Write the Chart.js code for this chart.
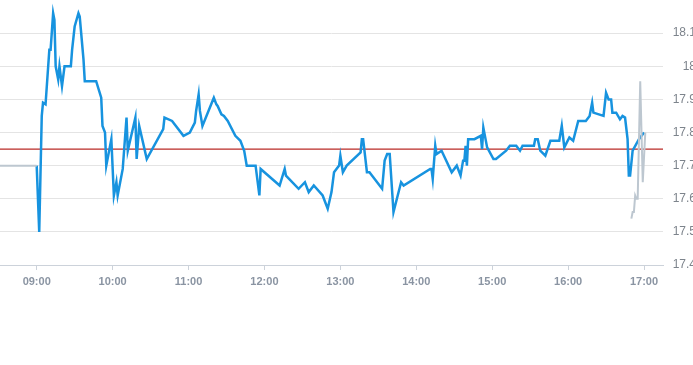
<!DOCTYPE html>
<html>
<head>
<meta charset="utf-8">
<title>Intraday</title>
<script src="https://cdn.jsdelivr.net/npm/chart.js@4.4.1/dist/chart.umd.min.js"></script>
<style>
  html, body { margin: 0; padding: 0; background: #fff; overflow: hidden; }
  #wrap { width: 696px; height: 288px; }
</style>
</head>
<body>
<div id="wrap"><canvas id="chart1" width="696" height="288"></canvas></div>
<script>
// values
const prevClose = 17.75;
const xTickLabels = ['09:00', '10:00', '11:00', '12:00', '13:00', '14:00', '15:00', '16:00', '17:00'];
const yTickValues = [17.4, 17.5, 17.6, 17.7, 17.8, 17.9, 18.0, 18.1];
const xRange = ['08:31', '17:15'];
const yRange = [17.4, 18.2];

// regular session
const dayTimes = [
  '09:00', '09:02', '09:04', '09:05', '09:07', '09:10', '09:11', '09:13', '09:14', '09:15',
  '09:17', '09:18', '09:20', '09:22', '09:27', '09:28', '09:30', '09:33', '09:34', '09:37',
  '09:38', '09:47', '09:51', '09:52', '09:54', '09:55', '09:59', '10:01', '10:03', '10:04',
  '10:08', '10:11', '10:12', '10:18', '10:19', '10:21', '10:27', '10:40', '10:41', '10:47',
  '10:56', '11:01', '11:05', '11:06', '11:08', '11:09', '11:11', '11:20', '11:22', '11:23',
  '11:26', '11:28', '11:31', '11:37', '11:41', '11:44', '11:46', '11:53', '11:56', '11:57',
  '12:12', '12:16', '12:17', '12:27', '12:32', '12:35', '12:39', '12:46', '12:50', '12:53',
  '12:55', '12:59', '13:00', '13:02', '13:05', '13:16', '13:17', '13:18', '13:21', '13:23',
  '13:33', '13:35', '13:37', '13:39', '13:42', '13:48', '13:50', '14:11', '14:12', '14:13',
  '14:15', '14:16', '14:20', '14:28', '14:32', '14:35', '14:37', '14:38', '14:39', '14:40',
  '14:41', '14:44', '14:46', '14:51', '14:52', '14:53', '14:56', '15:01', '15:03', '15:11',
  '15:14', '15:19', '15:22', '15:24', '15:33', '15:34', '15:36', '15:38', '15:42', '15:46',
  '15:53', '15:55', '15:57', '16:01', '16:04', '16:08', '16:14', '16:17', '16:19', '16:20',
  '16:28', '16:30', '16:32', '16:34', '16:35', '16:38', '16:41', '16:43', '16:45', '16:47',
  '16:48', '16:49', '16:51', '16:56', '17:00'
];
const dayPrices = [
  17.70, 17.50, 17.85, 17.89, 17.885, 18.05, 18.05, 18.16, 18.14, 18.00,
  17.96, 18.00, 17.94, 18.00, 18.00, 18.05, 18.12, 18.16, 18.15, 18.02,
  17.955, 17.955, 17.905, 17.82, 17.80, 17.70, 17.78, 17.61, 17.65, 17.61,
  17.69, 17.845, 17.745, 17.845, 17.72, 17.82, 17.72, 17.81, 17.845, 17.835,
  17.79, 17.80, 17.83, 17.865, 17.915, 17.865, 17.82, 17.905, 17.885, 17.88,
  17.855, 17.85, 17.835, 17.79, 17.775, 17.745, 17.70, 17.70, 17.61, 17.69,
  17.64, 17.69, 17.67, 17.63, 17.65, 17.62, 17.64, 17.61, 17.57, 17.62,
  17.68, 17.70, 17.73, 17.68, 17.70, 17.74, 17.78, 17.78, 17.68, 17.68,
  17.63, 17.715, 17.735, 17.735, 17.56, 17.65, 17.64, 17.69, 17.69, 17.66,
  17.76, 17.735, 17.745, 17.68, 17.70, 17.67, 17.715, 17.715, 17.76, 17.70,
  17.78, 17.78, 17.78, 17.79, 17.75, 17.815, 17.755, 17.72, 17.72, 17.745,
  17.76, 17.76, 17.745, 17.76, 17.76, 17.78, 17.78, 17.745, 17.73, 17.775,
  17.775, 17.82, 17.755, 17.785, 17.775, 17.835, 17.835, 17.85, 17.89, 17.86,
  17.85, 17.92, 17.90, 17.90, 17.86, 17.86, 17.84, 17.85, 17.845, 17.78,
  17.67, 17.67, 17.745, 17.78, 17.80
];

// pre / after market (null = gap)
const extTimes = ['08:30', '09:00', '12:00', '16:50', '16:51', '16:52', '16:53', '16:54', '16:55', '16:57', '16:59', '17:01'];
const extPrices = [17.70, 17.70, null, 17.54, 17.56, 17.56, 17.61, 17.60, 17.60, 17.955, 17.65, 17.80];

const FONT = '"Helvetica Neue", Helvetica, Arial, sans-serif';
const toMin = (s) => { const [h, m] = s.split(':').map(Number); return h * 60 + m; };
const fmtTime = (v) => String(Math.floor(v / 60)).padStart(2, '0') + ':' + String(v % 60).padStart(2, '0');
const points = (times, values) => times.map((t, i) => ({ x: toMin(t), y: values[i] }));

const xMin = toMin(xRange[0]);
const xMax = toMin(xRange[1]);

new Chart(document.getElementById('chart1').getContext('2d'), {
  type: 'line',
  data: {
    datasets: [
      {
        label: 'Price',
        data: points(dayTimes, dayPrices),
        borderColor: '#1793df',
        borderWidth: 2.5,
        pointRadius: 0,
        tension: 0,
        order: 1
      },
      {
        label: 'Extended',
        data: points(extTimes, extPrices),
        borderColor: '#bdc7d0',
        borderWidth: 2,
        pointRadius: 0,
        spanGaps: false,
        order: 0
      },
      {
        label: 'Previous close',
        data: [{ x: xMin, y: prevClose }, { x: xMax, y: prevClose }],
        borderColor: '#b92a26',
        borderWidth: 1.2,
        pointRadius: 0,
        order: 2
      }
    ]
  },
  options: {
    responsive: false,
    animation: false,
    devicePixelRatio: 1,
    layout: { padding: 0 },
    plugins: { legend: { display: false }, tooltip: { enabled: false } },
    scales: {
      x: {
        type: 'linear',
        min: xMin,
        max: xMax,
        afterBuildTicks: (s) => { s.ticks = xTickLabels.map(t => ({ value: toMin(t) })); },
        afterFit: (s) => { s.height = 23; s.paddingLeft = 0; s.paddingRight = 0; },
        ticks: {
          callback: (v) => fmtTime(v),
          color: '#8a94a2',
          font: { family: FONT, size: 11, weight: 'bold' },
          padding: 5,
          maxRotation: 0,
          autoSkip: false
        },
        grid: { drawOnChartArea: false, drawTicks: true, tickLength: 5, tickColor: '#ccd2da' },
        border: { display: true, color: '#ccd2da' }
      },
      y: {
        type: 'linear',
        position: 'right',
        min: yRange[0],
        max: yRange[1],
        afterBuildTicks: (s) => { s.ticks = yTickValues.map(v => ({ value: v })); },
        afterFit: (s) => { s.width = 33; s.paddingTop = 0; s.paddingBottom = 0; },
        ticks: {
          callback: (v) => String(+v.toFixed(2)),
          color: '#7d848c',
          font: { family: FONT, size: 12 },
          padding: 9,
          crossAlign: 'far'
        },
        grid: { color: '#e4e4e4', drawTicks: false },
        border: { display: false }
      }
    }
  }
});
</script>
</body>
</html>
